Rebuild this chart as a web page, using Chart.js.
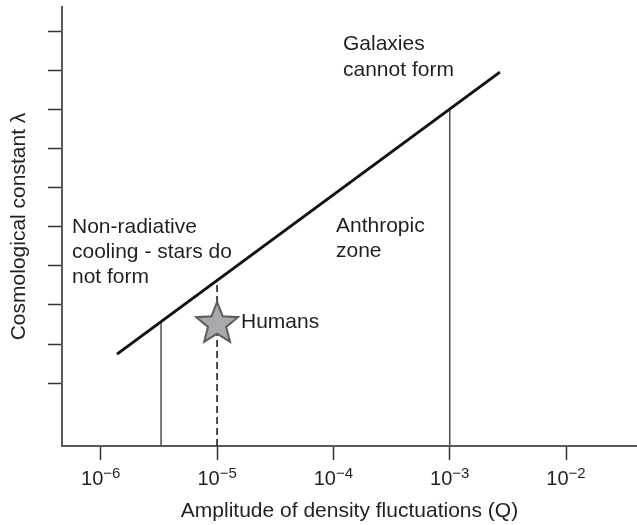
<!DOCTYPE html>
<html>
<head>
<meta charset="utf-8">
<script src="https://cdn.jsdelivr.net/npm/chart.js@4"></script>
<style>
  html, body { margin: 0; padding: 0; background: #fff; }
  #wrap { width: 637px; height: 525px; }
</style>
</head>
<body>
<div id="wrap"><canvas id="diagram" width="637" height="525"></canvas></div>
<script>
"use strict";

// values (Q on a log axis, lambda in tick units)
const xTicks = [1e-6, 1e-5, 1e-4, 1e-3, 1e-2];
const xExponents = ["\u22126", "\u22125", "\u22124", "\u22123", "\u22122"];
const yTicks = [1, 2, 3, 4, 5, 6, 7, 8, 9, 10];

const boundaryQ = [1.38e-6, 2.7e-3];
const boundaryLambda = [1.74, 8.97];

const dropQ = [3.3e-6, 1e-3];
const dropTop = [2.58, 8.03];

const humansQ = [1e-5];
const humansLambda = [2.54];
const humansDropTop = [3.6];

const xMin = Math.pow(10, -6.333);
const xMax = Math.pow(10, -1.39);
const yMin = -0.615;
const yMax = 10.64;

const TEXT = "#231f20";
const FONT = "'Liberation Sans', Arial, Helvetica, sans-serif";

// filled grey star used as the point style for "Humans"
function makeStar() {
  const c = document.createElement("canvas");
  c.width = 50;
  c.height = 50;
  const g = c.getContext("2d");
  const R = 22, r = 9.6;
  g.beginPath();
  for (let i = 0; i < 10; i++) {
    const rad = i % 2 === 0 ? R : r;
    const a = -Math.PI / 2 + (i * Math.PI) / 5;
    const px = 25 + rad * Math.cos(a);
    const py = 26 + rad * Math.sin(a);
    if (i === 0) g.moveTo(px, py);
    else g.lineTo(px, py);
  }
  g.closePath();
  g.fillStyle = "#a7a9ac";
  g.fill();
  g.lineWidth = 2;
  g.strokeStyle = "#5a5b5d";
  g.lineJoin = "miter";
  g.stroke();
  return c;
}

const verticals = dropQ.map((q, i) => ({
  data: [{ x: q, y: yMin }, { x: q, y: dropTop[i] }],
  showLine: true,
  borderColor: "#4d4d4f",
  borderWidth: 1.5,
  pointRadius: 0,
  order: 3,
}));

const labelsPlugin = {
  id: "labels",
  afterDraw(chart) {
    const ctx = chart.ctx;
    const xs = chart.scales.x;
    ctx.save();
    ctx.fillStyle = TEXT;
    ctx.textBaseline = "alphabetic";

    // x tick labels: 10 with superscript exponent
    xTicks.forEach((t, i) => {
      const px = xs.getPixelForValue(t);
      ctx.font = "20px " + FONT;
      const wBase = ctx.measureText("10").width;
      ctx.font = "15px " + FONT;
      const wExp = ctx.measureText(xExponents[i]).width;
      const left = px - (wBase + wExp) / 2;
      ctx.textAlign = "left";
      ctx.font = "20px " + FONT;
      ctx.fillText("10", left, 485);
      ctx.font = "15px " + FONT;
      ctx.fillText(xExponents[i], left + wBase, 478);
    });

    // region annotations
    ctx.font = "21px " + FONT;
    ctx.textAlign = "left";
    ctx.fillText("Galaxies", 343, 50);
    ctx.fillText("cannot form", 343, 76);
    ctx.fillText("Anthropic", 336, 232);
    ctx.fillText("zone", 336, 257);
    ctx.fillText("Non-radiative", 72, 233);
    ctx.fillText("cooling - stars do", 72, 258);
    ctx.fillText("not form", 72, 283);
    ctx.fillText("Humans", 241, 328);
    ctx.restore();
  },
};

const ctx = document.querySelector("#diagram").getContext("2d");

const myChart = new Chart(ctx, {
  type: "scatter",
  data: {
    datasets: [
      {
        data: humansQ.map((q, i) => ({ x: q, y: humansLambda[i] })),
        pointStyle: makeStar(),
        pointRadius: 12,
        order: 0,
      },
      {
        data: boundaryQ.map((q, i) => ({ x: q, y: boundaryLambda[i] })),
        showLine: true,
        borderColor: "#111111",
        borderWidth: 3,
        pointRadius: 0,
        order: 1,
      },
      {
        data: [{ x: humansQ[0], y: yMin }, { x: humansQ[0], y: humansDropTop[0] }],
        showLine: true,
        borderColor: "#111111",
        borderWidth: 1.5,
        borderDash: [7, 4],
        pointRadius: 0,
        order: 2,
      },
      ...verticals,
    ],
  },
  options: {
    responsive: false,
    animation: false,
    layout: { autoPadding: false, padding: { top: 7, right: 0, left: 0, bottom: 0 } },
    plugins: {
      legend: { display: false },
      tooltip: { enabled: false },
    },
    scales: {
      x: {
        type: "logarithmic",
        min: xMin,
        max: xMax,
        afterBuildTicks: (scale) => {
          scale.ticks = xTicks.map((v) => ({ value: v }));
        },
        afterFit: (scale) => {
          scale.height = 79;
        },
        ticks: { display: false },
        grid: {
          drawOnChartArea: false,
          tickLength: 14,
          tickColor: "#333333",
          tickWidth: 1.5,
        },
        border: { color: "#5a5a5a", width: 2 },
        title: {
          display: true,
          text: "Amplitude of density fluctuations (Q)",
          color: TEXT,
          font: { size: 21, family: FONT, lineHeight: 1.2 },
          padding: { top: 0, bottom: 1 },
        },
      },
      y: {
        min: yMin,
        max: yMax,
        afterBuildTicks: (scale) => {
          scale.ticks = yTicks.map((v) => ({ value: v }));
        },
        afterFit: (scale) => {
          scale.width = 62;
        },
        ticks: { display: false },
        grid: {
          drawOnChartArea: false,
          tickLength: 14,
          tickColor: "#333333",
          tickWidth: 1.5,
        },
        border: { color: "#5a5a5a", width: 2 },
        title: {
          display: true,
          text: "Cosmological constant \u03bb",
          color: TEXT,
          font: { size: 21, family: FONT, lineHeight: 1.2 },
          padding: { top: 7, bottom: 0 },
        },
      },
    },
  },
  plugins: [labelsPlugin],
});
</script>
</body>
</html>
